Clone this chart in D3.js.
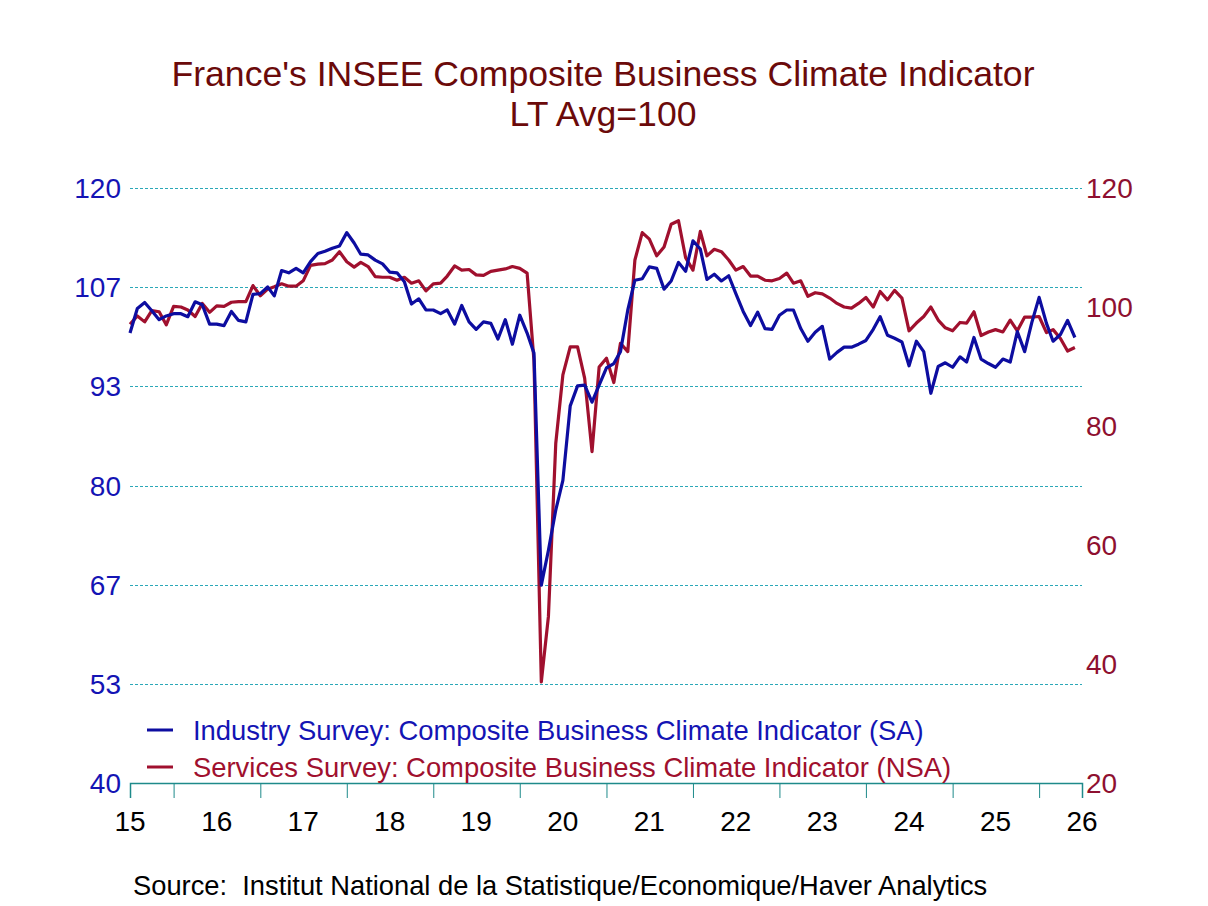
<!DOCTYPE html>
<html>
<head>
<meta charset="utf-8">
<script src="https://cdn.jsdelivr.net/npm/d3@7"></script>
<style>
  body { margin: 0; background: #fff; }
  text { font-family: "Liberation Sans", Arial, sans-serif; white-space: pre; }
</style>
</head>
<body>
<script>
// monthly, Jul 2015 .. Jun 2026
var industry = [
  100.5, 103.8, 104.6, 103.5, 102.3, 102.8, 103.1, 103.1, 102.7, 104.7, 104.3, 101.7,
  101.7, 101.5, 103.4, 102.2, 102.0, 105.7, 105.8, 106.7, 105.5, 108.9, 108.6, 109.2,
  108.6, 110.1, 111.2, 111.5, 111.9, 112.2, 114.0, 112.6, 111.1, 111.0, 110.3, 109.8,
  108.7, 108.6, 107.4, 104.4, 105.1, 103.6, 103.6, 103.1, 103.6, 101.7, 104.2, 102.0,
  101.0, 102.0, 101.8, 99.7, 102.3, 99.0, 102.9, 100.5, 97.8, 66.6, 71.3, 76.7,
  80.7, 90.7, 93.4, 93.5, 91.2, 93.5, 95.8, 96.4, 98.0, 103.6, 107.6, 107.8,
  109.4, 109.2, 106.4, 107.5, 110.0, 108.8, 112.9, 111.8, 107.7, 108.4, 107.5, 108.2,
  105.8, 103.4, 101.5, 103.3, 101.1, 101.0, 102.9, 103.6, 103.6, 101.1, 99.4, 100.6,
  101.4, 97.0, 97.9, 98.6, 98.6, 99.0, 99.5, 101.0, 102.7, 100.2, 99.8, 99.3,
  96.1, 99.4, 98.0, 92.4, 96.0, 96.5, 95.9, 97.3, 96.6, 99.9, 97.0, 96.4,
  95.9, 97.0, 96.6, 100.7, 98.0, 101.9, 105.3, 101.8, 99.4, 100.3, 102.2, 99.9
];
var services = [
  97.1, 98.5, 97.5, 99.4, 99.2, 97.0, 100.1, 100.0, 99.5, 98.4, 100.6, 99.1,
  100.2, 100.1, 100.8, 100.9, 100.9, 103.6, 101.9, 103.0, 103.4, 103.9, 103.5, 103.5,
  104.4, 107.0, 107.2, 107.3, 107.9, 109.3, 107.6, 106.7, 107.5, 106.8, 105.1, 105.0,
  105.0, 104.5, 105.0, 104.0, 104.4, 102.7, 103.9, 104.0, 105.2, 106.9, 106.2, 106.3,
  105.4, 105.3, 106.0, 106.2, 106.4, 106.8, 106.5, 105.7, 91.0, 37.0, 48.0, 77.1,
  88.6, 93.3, 93.3, 88.0, 75.7, 89.9, 91.4, 87.3, 93.9, 92.5, 107.9, 112.5,
  111.4, 108.6, 110.1, 113.9, 114.5, 108.3, 106.2, 112.7, 108.6, 109.7, 109.3, 107.9,
  106.2, 106.8, 105.2, 105.2, 104.5, 104.4, 104.8, 105.7, 104.0, 104.4, 101.8, 102.4,
  102.2, 101.5, 100.6, 100.0, 99.8, 100.6, 101.6, 100.0, 102.6, 101.2, 102.8, 101.5,
  96.0, 97.3, 98.4, 100.0, 97.8, 96.5, 96.0, 97.4, 97.3, 99.2, 95.2, 95.8,
  96.2, 95.8, 97.8, 96.0, 98.3, 98.3, 98.4, 95.7, 96.2, 94.7, 92.6, 93.2
];
var yearLabels = ["15","16","17","18","19","20","21","22","23","24","25","26"];
var leftTicks = [40, 53.33, 66.67, 80, 93.33, 106.67, 120];
var leftLabels = ["40","53","67","80","93","107","120"];
var rightTicks = [20, 40, 60, 80, 100, 120];
var seriesNames = [
  "Industry Survey: Composite Business Climate Indicator (SA)",
  "Services Survey: Composite Business Climate Indicator (NSA)"
];

var blue = "#0D0DA0", red = "#A0102E", grid = "#2BA8B8";

var dates = industry.map(function (d, i) { return new Date(2015, 6 + i, 1); });

var svg = d3.select("body").append("svg")
  .attr("width", 1208)
  .attr("height", 906);

var x = d3.scaleTime()
  .domain([new Date(2015, 6, 1), new Date(2026, 6, 1)])
  .range([130, 1082]);
var yL = d3.scaleLinear().domain([40, 120]).range([783, 188]);
var yR = d3.scaleLinear().domain([20, 120]).range([783, 188]);

// title
svg.append("text").attr("x", 603).attr("y", 86).attr("text-anchor", "middle")
  .attr("fill", "#6B0A0A").attr("font-size", 35.6)
  .text("France's INSEE Composite Business Climate Indicator");
svg.append("text").attr("x", 603).attr("y", 126).attr("text-anchor", "middle")
  .attr("fill", "#6B0A0A").attr("font-size", 35.6)
  .text("LT Avg=100");

// gridlines
svg.append("g").selectAll("line")
  .data(leftTicks.slice(1))
  .enter().append("line")
  .attr("x1", x.range()[0]).attr("x2", x.range()[1])
  .attr("y1", function (d) { return Math.round(yL(d)) + 0.5; })
  .attr("y2", function (d) { return Math.round(yL(d)) + 0.5; })
  .attr("stroke", grid).attr("stroke-width", 1)
  .attr("shape-rendering", "crispEdges")
  .attr("stroke-dasharray", "3,2");

// bottom axis
var xAxis = d3.axisBottom(x)
  .tickValues(d3.range(2016, 2027).map(function (y) { return new Date(y, 0, 1); }))
  .tickSize(15).tickFormat("");
var gx = svg.append("g").attr("transform", "translate(0,783)").call(xAxis);
gx.select(".domain").attr("stroke", "#1E8A8A").attr("stroke-width", 1.5);
gx.selectAll(".tick line").attr("stroke", "#1E8A8A");

svg.append("g").selectAll("text")
  .data(yearLabels)
  .enter().append("text")
  .attr("x", function (d, i) { return x(new Date(2015 + i, 6, 1)); })
  .attr("y", 831)
  .attr("text-anchor", "middle")
  .attr("font-size", 28)
  .attr("fill", "#000")
  .text(function (d) { return d; });

// left axis labels
svg.append("g").selectAll("text")
  .data(leftTicks)
  .enter().append("text")
  .attr("x", 121)
  .attr("y", function (d) { return yL(d) + 10; })
  .attr("text-anchor", "end")
  .attr("font-size", 28)
  .attr("fill", "#1414B4")
  .text(function (d, i) { return leftLabels[i]; });

// right axis labels
svg.append("g").selectAll("text")
  .data(rightTicks)
  .enter().append("text")
  .attr("x", 1086)
  .attr("y", function (d) { return yR(d) + 10; })
  .attr("font-size", 28)
  .attr("fill", "#8E1030")
  .text(function (d) { return d; });

// lines
var lineL = d3.line()
  .x(function (d, i) { return x(dates[i]); })
  .y(function (d) { return yL(d); });
var lineR = d3.line()
  .x(function (d, i) { return x(dates[i]); })
  .y(function (d) { return yR(d); });

svg.append("path").datum(services)
  .attr("d", lineR).attr("fill", "none")
  .attr("stroke", red).attr("stroke-width", 3.2).attr("stroke-linejoin", "round");
svg.append("path").datum(industry)
  .attr("d", lineL).attr("fill", "none")
  .attr("stroke", blue).attr("stroke-width", 3.2).attr("stroke-linejoin", "round");

// legend
var legend = svg.append("g").selectAll("g")
  .data(seriesNames)
  .enter().append("g")
  .attr("transform", function (d, i) { return "translate(0," + (730 + i * 37) + ")"; });
legend.append("line")
  .attr("x1", 147).attr("x2", 173).attr("y1", 0).attr("y2", 0)
  .attr("stroke-width", 3)
  .attr("stroke", function (d, i) { return i == 0 ? blue : red; });
legend.append("text")
  .attr("x", 193).attr("y", 10)
  .attr("font-size", 27.4)
  .attr("fill", function (d, i) { return i == 0 ? "#1414B4" : "#A0102E"; })
  .text(function (d) { return d; });

// source
svg.append("text").attr("x", 133).attr("y", 895)
  .attr("font-size", 27.3).attr("fill", "#000")
  .text("Source:  Institut National de la Statistique/Economique/Haver Analytics");
</script>
</body>
</html>
